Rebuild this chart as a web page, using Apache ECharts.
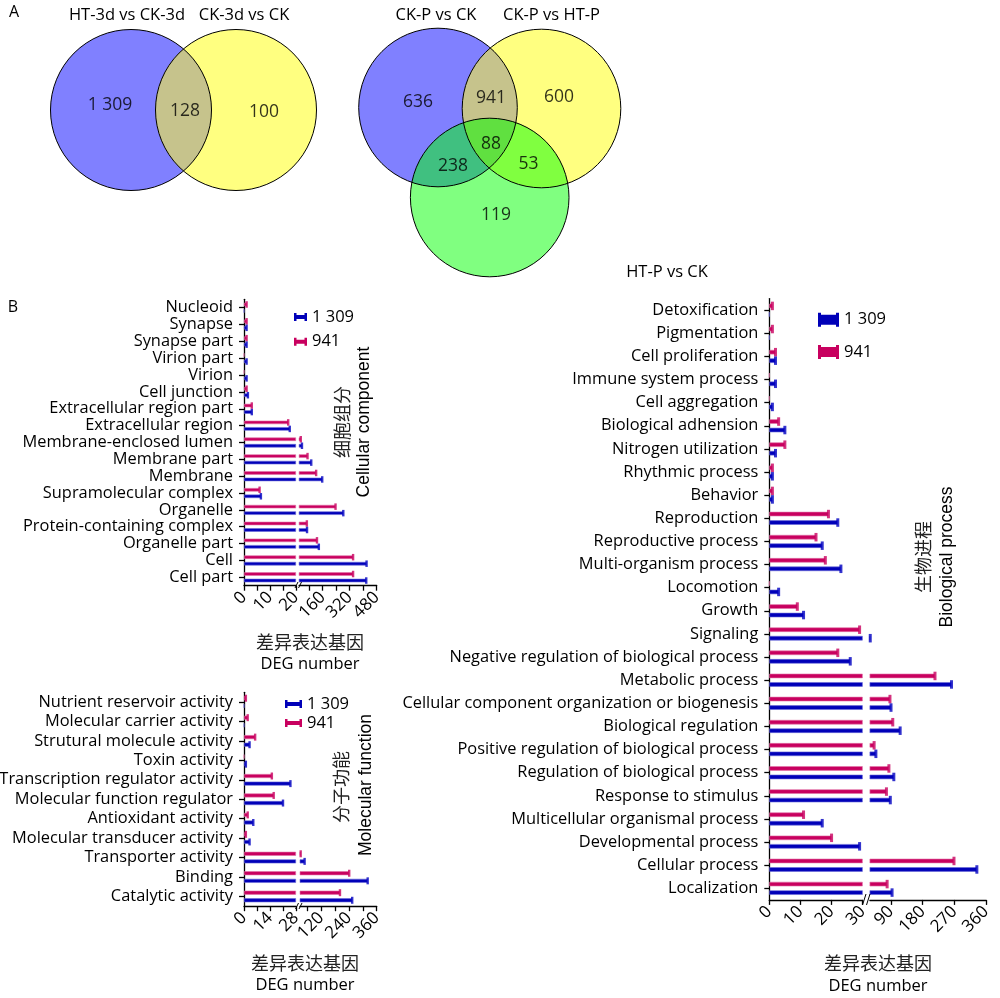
<!DOCTYPE html>
<html><head><meta charset="utf-8">
<script src="https://cdn.jsdelivr.net/npm/echarts@6/dist/echarts.min.js"></script>
<style>html,body{margin:0;padding:0;background:#fff}#c{width:1000px;height:998px}</style>
</head><body><div id="c"></div>
<script>
// ================= DATA =================
const vennLeftTitles = ['HT-3d vs CK-3d', 'CK-3d vs CK'];
const vennLeftCounts = [1309, 128, 100];              // A only, A∩B, B only
const vennRightTitles = ['CK-P vs CK', 'CK-P vs HT-P', 'HT-P vs CK'];
const vennRightCounts = [636, 941, 600, 238, 88, 53, 119]; // B, B∩Y, Y, B∩G, B∩Y∩G, Y∩G, G

const fmt = n => String(n).replace(/\B(?=(\d{3})+(?!\d))/g, ' ');
const seriesNames = ['1 309', '941'];

// Cellular component
const ccCategories = ['Nucleoid','Synapse','Synapse part','Virion part','Virion','Cell junction','Extracellular region part','Extracellular region','Membrane-enclosed lumen','Membrane part','Membrane','Supramolecular complex','Organelle','Protein-containing complex','Organelle part','Cell','Cell part'];
const ccPink = [1, 1, 1, 0, 0, 1, 3, 17, 30, 70, 121, 6, 236, 66, 126, 340, 340];
const ccBlue = [0, 1, 1, 1, 1, 1.5, 3, 17.6, 37, 92, 157, 6.5, 282, 67, 137, 420, 418];
const ccTickValuesLow = [0, 5, 10, 15, 20];
const ccTickLabelsLow = [0, 10, 20];
const ccTickValuesHigh = [80, 160, 240, 320, 400, 480];
const ccTickLabelsHigh = [160, 320, 480];

// Molecular function
const mfCategories = ['Nutrient reservoir activity','Molecular carrier activity','Strutural molecule activity','Toxin activity','Transcription regulator activity','Molecular function regulator','Antioxidant activity','Molecular transducer activity','Transporter activity','Binding','Catalytic activity'];
const mfPink = [1, 2, 6, 0, 15, 16, 2, 1, 31, 241, 201];
const mfBlue = [0, 0, 3, 1, 25, 21, 5, 3, 48, 321, 254];
const mfTickValuesLow = [0, 7, 14, 21, 28];
const mfTickLabelsLow = [0, 14, 28];
const mfTickValuesHigh = [60, 120, 180, 240, 300, 360];
const mfTickLabelsHigh = [120, 240, 360];

// Biological process
const bpCategories = ['Detoxification','Pigmentation','Cell proliferation','Immune system process','Cell aggregation','Biological adhension','Nitrogen utilization','Rhythmic process','Behavior','Reproduction','Reproductive process','Multi-organism process','Locomotion','Growth','Signaling','Negative regulation of biological process','Metabolic process','Cellular component organization or biogenesis','Biological regulation','Positive regulation of biological process','Regulation of biological process','Response to stimulus','Multicellular organismal process','Developmental process','Cellular process','Localization'];
const bpPink = [1, 1, 2, 0, 0, 3, 5, 1, 1, 19, 15, 18, 0, 9, 29, 22, 215, 87, 95, 42, 84, 77, 11, 20, 269, 79];
const bpBlue = [0, 0, 2, 2, 1, 5, 2, 1, 1, 22, 17, 23, 3, 11, 31, 26, 262, 90, 116, 47, 98, 88, 17, 29, 334, 93];
const bpTickValuesLow = [0, 10, 20, 30];
const bpTickLabelsLow = [0, 10, 20, 30];
const bpTickValuesHigh = [90, 180, 270, 360];
const bpTickLabelsHigh = [90, 180, 270, 360];

// ================= LAYOUT / STYLE =================
const FONT = 'Open Sans';
const CJK = 'Noto Sans CJK SC';
const ARIAL = 'Liberation Sans';
const PINK = {fill:'#c8005f', edge:'#e273a8', cap:'#c8005f'};
const BLUE = {fill:'#0000b8', edge:'#6a6ad8', cap:'#0000c0'};
const VC = {B:'#8080ff', Y:'#ffff80', G:'#80ff80', BY:'#c6c38c', BG:'#40c080', YG:'#80ff40', BYG:'#60e040'};

const vennLeftLayout = {circles: [[131,110,80.5],[236,110,80.5]], labels: [[110,105],[185,111],[264,112]], titles: [[127,15],[244,15]]};
const vennRightLayout = {circles: [[438,107.5,79.3],[541.5,108.5,79.3],[489.7,197.5,79.3]],
  labels: [[418,102],[491,98],[559,97],[453,166],[491,144],[528.5,164],[496,215]], titles: [[436,15],[551.5,15],[667,272]]};

function inter(c1, c2) {
  const [x1,y1,r1]=c1, [x2,y2,r2]=c2;
  const dx=x2-x1, dy=y2-y1, d=Math.hypot(dx,dy);
  const a=(r1*r1-r2*r2+d*d)/(2*d);
  const h=Math.sqrt(Math.max(0,r1*r1-a*a));
  const mx=x1+a*dx/d, my=y1+a*dy/d;
  return [[mx+h*dy/d, my-h*dx/d],[mx-h*dy/d, my+h*dx/d]];
}
function inside(c, p, eps){ return Math.hypot(p[0]-c[0],p[1]-c[1]) <= c[2]+(eps||0.3); }
function arc(c, p, q, test, n) {
  n = n || 48;
  const a1=Math.atan2(p[1]-c[1],p[0]-c[0]);
  const a2=Math.atan2(q[1]-c[1],q[0]-c[0]);
  let d1=a2-a1; while(d1<0) d1+=2*Math.PI;
  const d2=d1-2*Math.PI;
  const mid=d=>[c[0]+c[2]*Math.cos(a1+d/2), c[1]+c[2]*Math.sin(a1+d/2)];
  const d = test(mid(d1)) ? d1 : d2;
  const pts=[];
  for(let i=0;i<=n;i++){const t=a1+d*i/n; pts.push([c[0]+c[2]*Math.cos(t), c[1]+c[2]*Math.sin(t)]);}
  return pts;
}
function lens(A,B){
  const [P,Q]=inter(A,B);
  return arc(A,P,Q,p=>inside(B,p)).concat(arc(B,Q,P,p=>inside(A,p)));
}
function triple(A,B,C){
  const pAB=inter(A,B).find(p=>inside(C,p,1));
  const pBC=inter(B,C).find(p=>inside(A,p,1));
  const pCA=inter(C,A).find(p=>inside(B,p,1));
  return arc(B,pAB,pBC,p=>inside(A,p)&&inside(C,p))
    .concat(arc(C,pBC,pCA,p=>inside(A,p)&&inside(B,p)))
    .concat(arc(A,pCA,pAB,p=>inside(B,p)&&inside(C,p)));
}
const Lc=vennLeftLayout.circles, Rc=vennRightLayout.circles;
const allCircles=[{c:Lc[0],col:VC.B},{c:Lc[1],col:VC.Y},{c:Rc[0],col:VC.B},{c:Rc[1],col:VC.Y},{c:Rc[2],col:VC.G}];
const regions=[
  {pts:lens(Lc[0],Lc[1]),col:VC.BY},
  {pts:lens(Rc[0],Rc[1]),col:VC.BY},
  {pts:lens(Rc[0],Rc[2]),col:VC.BG},
  {pts:lens(Rc[1],Rc[2]),col:VC.YG},
  {pts:triple(Rc[0],Rc[1],Rc[2]),col:VC.BYG}
];
const vennLabelData = vennLeftCounts.map((v,i)=>[vennLeftLayout.labels[i][0], vennLeftLayout.labels[i][1], v])
  .concat(vennRightCounts.map((v,i)=>[vennRightLayout.labels[i][0], vennRightLayout.labels[i][1], v]));

const panels = [
  {cats:ccCategories, pink:ccPink, blue:ccBlue, lowMax:20, hiMax:480,
   lowTicks:ccTickValuesLow, lowLabels:ccTickLabelsLow, hiTicks:ccTickValuesHigh, hiLabels:ccTickLabelsHigh,
   A:{left:244, top:299.3, width:52, height:286.4}, B:{left:299.1, top:299.3, width:77.6, height:286.4},
   bw:3.5, sep:6.5, cap:[2.4,6.5],
   legend:{left:294, top:308, itemWidth:13, itemHeight:8, itemGap:6.7, icon:'path://M0,0H2.5V8H0ZM2.5,2H10.5V6H2.5ZM10.5,0H13V8H10.5Z'},
   brk:[[295,588,298,582],[298.5,588,301.5,582]]},
  {cats:mfCategories, pink:mfPink, blue:mfBlue, lowMax:28, hiMax:360,
   lowTicks:mfTickValuesLow, lowLabels:mfTickLabelsLow, hiTicks:mfTickValuesHigh, hiLabels:mfTickLabelsHigh,
   A:{left:244, top:692.3, width:52, height:213.9}, B:{left:300, top:692.3, width:76.7, height:213.9},
   bw:4, sep:7.6, cap:[2.4,7],
   legend:{left:285, top:695, itemWidth:17, itemHeight:8, itemGap:1, icon:'path://M0,0H2.5V8H0ZM2.5,2H14.5V6H2.5ZM14.5,0H17V8H14.5Z'},
   brk:[[295.5,909,298.5,903],[299,909,302,903]]},
  {cats:bpCategories, pink:bpPink, blue:bpBlue, lowMax:30, hiMax:360,
   lowTicks:bpTickValuesLow, lowLabels:bpTickLabelsLow, hiTicks:bpTickValuesHigh, hiLabels:bpTickLabelsHigh,
   A:{left:769.3, top:298.6, width:93.4, height:601.3}, B:{left:869.9, top:298.6, width:116.1, height:601.3},
   bw:4.5, sep:8.5, cap:[3,8.5],
   legend:{left:818, top:310.7, itemWidth:21, itemHeight:14, itemGap:14.3, icon:'path://M0,0H3V14H0ZM3,2H18V12H3ZM18,0H21V14H18Z'},
   brk:[[862.5,905,866,894],[866.5,905,870,894]]}
];

const axisLineStyle = {color:'#000', width:1.3};
const grids=[{left:0, top:0, width:1000, height:300, containLabel:false, outerBoundsMode:'none'}];
const xAxes=[{type:'value', gridIndex:0, min:0, max:1000, show:false}];
const yAxes=[{type:'value', gridIndex:0, min:0, max:300, inverse:true, show:false}];
const series=[];
const legends=[];
const graphics=[];

// Venn series
series.push({type:'custom', coordinateSystem:'cartesian2d', xAxisIndex:0, yAxisIndex:0, silent:true, z:1,
  data: allCircles.map(d=>[d.c[0], d.c[1], d.c[2]]),
  renderItem:(params, api)=>{ const p=api.coord([api.value(0), api.value(1)]); const r=api.size([api.value(2),0])[0];
    return {type:'circle', shape:{cx:p[0], cy:p[1], r:r}, style:{fill:allCircles[params.dataIndex].col}}; }});
series.push({type:'custom', coordinateSystem:'cartesian2d', xAxisIndex:0, yAxisIndex:0, silent:true, z:2,
  data: regions.map((r,i)=>[i,0]),
  renderItem:(params, api)=>{ const reg=regions[params.dataIndex];
    return {type:'polygon', shape:{points:reg.pts.map(p=>api.coord(p))}, style:{fill:reg.col}}; }});
series.push({type:'custom', coordinateSystem:'cartesian2d', xAxisIndex:0, yAxisIndex:0, silent:true, z:3,
  data: allCircles.map(d=>[d.c[0], d.c[1], d.c[2]]),
  renderItem:(params, api)=>{ const p=api.coord([api.value(0), api.value(1)]); const r=api.size([api.value(2),0])[0];
    return {type:'circle', shape:{cx:p[0], cy:p[1], r:r}, style:{fill:'none', stroke:'#000', lineWidth:1}}; }});
series.push({type:'scatter', xAxisIndex:0, yAxisIndex:0, silent:true, z:4, symbolSize:1,
  itemStyle:{color:'rgba(0,0,0,0)'}, data: vennLabelData,
  label:{show:true, position:'inside', formatter:p=>fmt(p.value[2]), fontSize:17.5, color:'#000', fontFamily:FONT}});

panels.forEach((p,k)=>{
  const ia=1+2*k, ib=2+2*k;
  grids.push(Object.assign({containLabel:false, outerBoundsMode:'none'}, p.A), Object.assign({containLabel:false, outerBoundsMode:'none'}, p.B));
  const tickStyle = {show:true, length:5, lineStyle:axisLineStyle};
  const lab = {rotate:45, margin:9, fontSize:17, color:'#000', fontFamily:FONT};
  xAxes.push({type:'value', gridIndex:ia, min:0, max:p.lowMax, splitLine:{show:false},
    axisLine:{show:true, onZero:false, lineStyle:axisLineStyle},
    axisTick:Object.assign({customValues:p.lowTicks}, tickStyle),
    axisLabel:Object.assign({customValues:p.lowLabels}, lab)});
  xAxes.push({type:'value', gridIndex:ib, min:p.lowMax, max:p.hiMax, splitLine:{show:false},
    axisLine:{show:true, onZero:false, lineStyle:axisLineStyle},
    axisTick:Object.assign({customValues:p.hiTicks}, tickStyle),
    axisLabel:Object.assign({customValues:p.hiLabels}, lab)});
  yAxes.push({type:'category', gridIndex:ia, data:p.cats, inverse:true,
    axisLine:{show:true, onZero:false, lineStyle:axisLineStyle},
    axisTick:{show:true, alignWithLabel:true, interval:0, length:5, lineStyle:axisLineStyle},
    axisLabel:{interval:0, fontSize:16.4, color:'#000', fontFamily:FONT, margin:11}});
  yAxes.push({type:'category', gridIndex:ib, data:p.cats, inverse:true, show:false});
  const gap = ((p.sep - p.bw)/p.bw*100).toFixed(1)+'%';
  const sets = [[seriesNames[1], p.pink, PINK, -p.sep/2], [seriesNames[0], p.blue, BLUE, p.sep/2]];
  sets.forEach(([name, vals, col])=>{
    series.push({type:'bar', name, xAxisIndex:ia, yAxisIndex:ia, barWidth:p.bw, barGap:gap, silent:true, z:2,
      itemStyle:{color:col.fill, borderColor:col.edge, borderWidth:0.6},
      data: vals.map(v=>Math.min(v, p.lowMax))});
  });
  sets.forEach(([name, vals, col])=>{
    series.push({type:'bar', name, xAxisIndex:ib, yAxisIndex:ib, barWidth:p.bw, barGap:gap, silent:true, clip:true, z:2,
      itemStyle:{color:col.fill, borderColor:col.edge, borderWidth:0.6},
      data: vals.map(v=> v>p.lowMax ? v : '-')});
  });
  sets.forEach(([name, vals, col, off])=>{
    series.push({type:'scatter', name, xAxisIndex:ia, yAxisIndex:ia, symbol:'rect', symbolSize:p.cap, symbolOffset:[0, off],
      clip:false, silent:true, z:3, itemStyle:{color:col.cap},
      data: vals.map((v,i)=> (v>0 && v<=p.lowMax) ? [v,i] : null).filter(d=>d)});
    series.push({type:'scatter', name, xAxisIndex:ib, yAxisIndex:ib, symbol:'rect', symbolSize:p.cap, symbolOffset:[0, off],
      clip:false, silent:true, z:3, itemStyle:{color:col.cap},
      data: vals.map((v,i)=> (v>p.lowMax) ? [v,i] : null).filter(d=>d)});
  });
  legends.push(Object.assign({orient:'vertical', padding:0, selectedMode:false, data:seriesNames.slice(),
    itemStyle:{borderWidth:0}, textStyle:{fontSize:16.5, color:'#000', fontFamily:FONT, lineHeight:18}}, p.legend));
  p.brk.forEach(b=>graphics.push({type:'line', shape:{x1:b[0], y1:b[1], x2:b[2], y2:b[3]}, style:{stroke:'#000', lineWidth:1}, z:100}));
});

// Texts
function txt(t, x, y, size, family, rot, color){
  return {type:'text', x:x, y:y, rotation:rot||0, z:100,
    style:{text:t, font: size+'px "'+(family||FONT)+'"', fill:color||'#000', align:'center', verticalAlign:'middle', textAlign:'center', textVerticalAlign:'middle'}};
}
const R90 = Math.PI/2;
graphics.push(txt('A', 14, 12, 16));
graphics.push(txt('B', 13, 307, 16));
vennLeftTitles.forEach((t,i)=>graphics.push(txt(t, vennLeftLayout.titles[i][0], vennLeftLayout.titles[i][1], 16.5)));
vennRightTitles.forEach((t,i)=>graphics.push(txt(t, vennRightLayout.titles[i][0], vennRightLayout.titles[i][1], 16.5)));
[[310,642,664],[305,963,985],[878,963,986]].forEach(a=>{
  graphics.push(txt('差异表达基因', a[0], a[1], 18, CJK, 0, '#222'));
  graphics.push(txt('DEG number', a[0], a[2], 16.5));
});
graphics.push(txt('细胞组分', 342, 422, 18, CJK, R90, '#222'));
graphics.push(txt('Cellular component', 364, 422, 17.5, ARIAL, R90));
graphics.push(txt('分子功能', 341, 787, 18, CJK, R90, '#222'));
graphics.push(txt('Molecular function', 366, 785, 17.5, ARIAL, R90));
graphics.push(txt('生物进程', 923, 557, 18, CJK, R90, '#222'));
graphics.push(txt('Biological process', 947, 557, 17.5, ARIAL, R90));

const chart = echarts.init(document.getElementById('c'));
chart.setOption({
  animation:false, backgroundColor:'#fff',
  textStyle:{fontFamily:FONT},
  grid:grids, xAxis:xAxes, yAxis:yAxes, legend:legends, series:series, graphic:graphics
});
</script></body></html>
